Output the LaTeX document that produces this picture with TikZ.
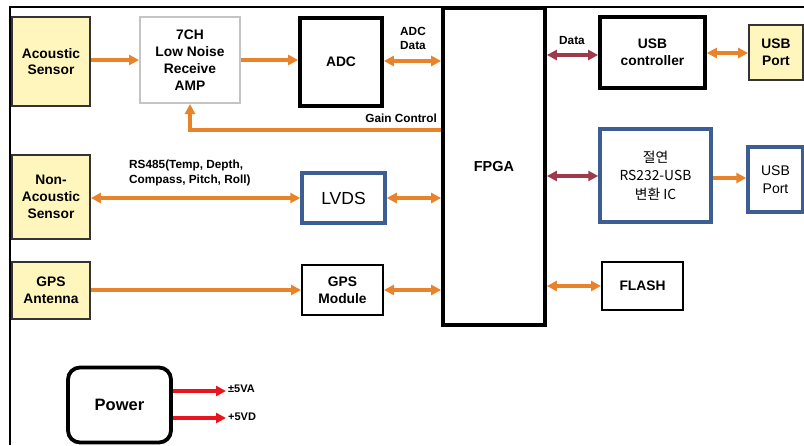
\documentclass[tikz,border=0pt]{standalone}
\usepackage{fontspec}
\setmainfont{Liberation Sans}
\newfontfamily\krfont{Noto Sans CJK KR}
\usetikzlibrary{arrows.meta}
\definecolor{orng}{HTML}{E8832A}
\definecolor{dred}{HTML}{9E3A4A}
\definecolor{ylw}{HTML}{FFF6BE}
\definecolor{blu}{HTML}{3C5E92}
\definecolor{rd}{HTML}{E8141E}
\definecolor{gry}{HTML}{C4C4C4}
\tikzset{
  bx/.style={rectangle, align=center, font=\bfseries\fontsize{13.8}{16.8}\selectfont, inner sep=0pt},
  ysens/.style={bx, draw=black!80, line width=1.8pt, fill=ylw},
  thickbx/.style={bx, draw=black, line width=3.8pt, fill=white},
  thinbx/.style={bx, draw=black, line width=2pt, fill=white},
  bluebx/.style={bx, draw=blu, line width=3.5pt, fill=white},
  tip/.style={-{Triangle[length=10pt,width=10pt]}},
  dtip/.style={{Triangle[length=10pt,width=10pt]}-{Triangle[length=10pt,width=10pt]}},
  oarr/.style={draw=orng, line width=3.2pt, tip},
  oarr2/.style={draw=orng, line width=3.2pt, dtip},
  rarr2/.style={draw=dred, line width=3.2pt, dtip},
  redarr/.style={draw=rd, line width=3.4pt, tip},
  lbl/.style={font=\bfseries\fontsize{11.8}{14.5}\selectfont, align=center, inner sep=0pt},
}
\begin{document}
\begin{tikzpicture}[x=1pt,y=-1pt]
\useasboundingbox (0,0) rectangle (804,445);
\fill[white] (0,0) rectangle (804,445);
% frame
\draw[line width=2pt] (10,445) -- (10,7) -- (804,7);

% nodes
\node[ysens, minimum width=78pt, minimum height=89pt] (ac) at (51,61.5) {Acoustic\\Sensor};
\node[bx, draw=gry, line width=2pt, fill=white, minimum width=100pt, minimum height=86pt] (amp) at (190,60) {7CH\\Low Noise\\Receive\\AMP};
\node[thickbx, minimum width=82pt, minimum height=88pt] (adc) at (341,62) {ADC};
\node[thickbx, minimum width=102pt, minimum height=317pt, font=\bfseries\fontsize{14.5}{17}\selectfont] (fpga) at (494,166.5) {FPGA};
\node[thickbx, minimum width=105pt, minimum height=71pt] (usbc) at (652.5,52.5) {USB\\controller};
\node[ysens, minimum width=54pt, minimum height=55pt] (usbp1) at (776,52.5) {USB\\Port};
\node[bluebx, minimum width=111pt, minimum height=93pt, font=\krfont\fontsize{13.8}{18.5}\selectfont] (ic) at (655.5,175.5) {절연\\RS232-USB\\변환 IC};
\node[bluebx, minimum width=55pt, minimum height=65pt, font=\fontsize{14}{17.5}\selectfont] (usbp2) at (775.5,179.5) {USB\\Port};
\node[thinbx, minimum width=81pt, minimum height=48pt] (flash) at (642.5,286) {FLASH};
\node[ysens, minimum width=78pt, minimum height=84pt] (nas) at (51,197) {Non-\\Acoustic\\Sensor};
\node[bluebx, minimum width=83pt, minimum height=50pt, font=\fontsize{17.5}{20}\selectfont] (lvds) at (343.5,198) {LVDS};
\node[ysens, minimum width=78pt, minimum height=57pt] (gps) at (51,290.5) {GPS\\Antenna};
\node[thinbx, minimum width=81pt, minimum height=50pt] (gpsm) at (342.5,290) {GPS\\Module};
\node[bx, draw=black, line width=3.8pt, rounded corners=12pt, fill=white, minimum width=103pt, minimum height=75pt, font=\bfseries\fontsize{16.5}{20}\selectfont] (pwr) at (119.5,405) {Power};

% connectors
\draw[oarr] (ac.east |- 0,60) -- (amp.west |- 0,60);
\draw[oarr] (amp.east |- 0,60) -- (adc.west |- 0,60);
\draw[oarr2] (adc.east |- 0,61) -- (fpga.west |- 0,61);
\coordinate (gc) at (190,130);
\draw[oarr] (fpga.west |- gc) -- (gc) -- (amp.south);
\draw[oarr2] (nas.east |- 0,198) -- (lvds.west |- 0,198);
\draw[oarr2] (lvds.east |- 0,198) -- (fpga.west |- 0,198);
\draw[oarr] (gps.east |- 0,290) -- (gpsm.west |- 0,290);
\draw[oarr2] (gpsm.east |- 0,290) -- (fpga.west |- 0,290);
\draw[rarr2] (fpga.east |- 0,55) -- (usbc.west |- 0,55);
\draw[oarr2] (usbc.east |- 0,53) -- (usbp1.west |- 0,53);
\draw[rarr2] (fpga.east |- 0,176) -- (ic.west |- 0,176);
\draw[oarr] (ic.east |- 0,178) -- (usbp2.west |- 0,178);
\draw[oarr2] (fpga.east |- 0,286) -- (flash.west |- 0,286);
\coordinate (p1) at (226,391);
\coordinate (p2) at (226,418);
\draw[redarr] (pwr.east |- p1) -- (p1);
\draw[redarr] (pwr.east |- p2) -- (p2);

% labels
\node[lbl] (adcdata) at (413,38.5) {ADC\\Data};
\node[lbl, anchor=east] (gainlbl) at (437,118) {Gain Control};
\node[lbl] (datalbl) at (572,40) {Data};
\node[lbl, anchor=west, align=left] (rslbl) at (129,173) {RS485(Temp, Depth,\\Compass, Pitch, Roll)};
\node[lbl, anchor=west, font=\bfseries\fontsize{11}{13}\selectfont] (v1) at (228,389) {±5VA};
\node[lbl, anchor=west, font=\bfseries\fontsize{11}{13}\selectfont] (v2) at (228,417) {+5VD};
\end{tikzpicture}
\end{document}
